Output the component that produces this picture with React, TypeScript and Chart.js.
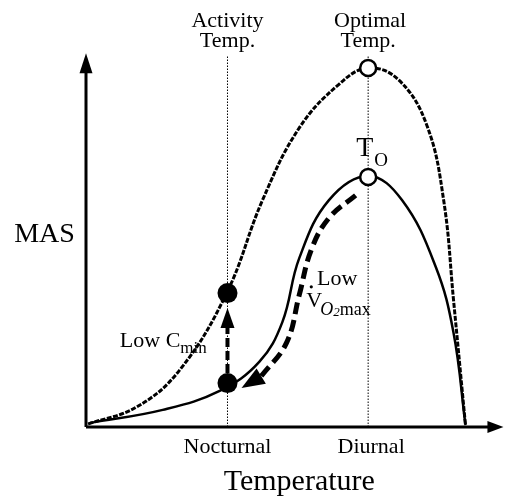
import React, { useEffect, useRef } from "react";
import { Chart, registerables } from "chart.js";

Chart.register(...registerables);

// Reference temperatures (x units) and axis extents
const activityTemp = 34.3;
const optimalTemp = 68.4;
const xAxisEnd = 101.2;
const yAxisEnd = 100.5;
const guideTop = 100;

// Upper curve (MAS with high Cmin) – dashed
const upperX = [0.5, 12.3, 22.7, 34.1, 42.8, 51.7, 61.4, 68.4, 75.8, 82.6, 86.7, 89.1, 92.0];
const upperY = [0.8, 5.4, 15.3, 36.0, 61.0, 80.4, 92.2, 96.5, 93.3, 81.2, 61.0, 34.1, 0.5];

// Lower curve (MAS) – solid
const lowerX = [1.0, 18.6, 32.4, 42.0, 47.6, 51.7, 58.9, 68.4, 76.6, 84.8, 89.1, 92.0];
const lowerY = [1.1, 4.6, 9.7, 17.5, 28.2, 45.4, 61.0, 67.5, 61.0, 43.0, 25.3, 0.5];

// Thick dashed "Low VO2max" path (ascending x), arrow tip separately
const vo2Tip = [37.7, 10.5];
const vo2X = [42.5, 48.6, 51.7, 54.6, 58.9, 65.5];
const vo2Y = [13.7, 22.6, 35.5, 47.6, 56.2, 62.4];

// Low Cmin arrow: shaft from / to, tip
const cminShaftY = [14.5, 26.9];
const cminTipY = 32.0;

// Markers
const filledY = [36.0, 11.8];
const openY = [96.5, 67.2];

const pts = (xs: number[], ys: number[]) => xs.map((x, i) => ({ x, y: ys[i] }));

const FONT = '"Liberation Serif", "Times New Roman", serif';

const annotate = {
  id: "annotate",
  afterDatasetsDraw(chart: any) {
    const { ctx, chartArea } = chart;
    const sx = chart.scales.x;
    const sy = chart.scales.y;
    const px = (v: number) => sx.getPixelForValue(v);
    const py = (v: number) => sy.getPixelForValue(v);
    ctx.save();
    ctx.fillStyle = "#000";

    const arrowHead = (x0: number, y0: number, x1: number, y1: number, len: number, half: number) => {
      const a = Math.atan2(y1 - y0, x1 - x0);
      const bx = x1 - len * Math.cos(a);
      const by = y1 - len * Math.sin(a);
      ctx.beginPath();
      ctx.moveTo(x1, y1);
      ctx.lineTo(bx + half * Math.sin(a), by - half * Math.cos(a));
      ctx.lineTo(bx - half * Math.sin(a), by + half * Math.cos(a));
      ctx.closePath();
      ctx.fill();
    };

    // axis arrowheads
    arrowHead(px(0), py(0), px(0), py(yAxisEnd), 20, 6.5);
    arrowHead(px(0), py(0), px(xAxisEnd), py(0), 16, 6);
    // Low Cmin arrowhead
    arrowHead(px(activityTemp), py(cminShaftY[0]), px(activityTemp), py(cminTipY), 20, 7);
    // VO2max arrowhead
    arrowHead(px(vo2X[0]), py(vo2Y[0]), px(vo2Tip[0]), py(vo2Tip[1]), 23, 9);

    const text = (s: string, x: number, y: number, size: number, align: CanvasTextAlign = "center", italic = false) => {
      ctx.font = `${italic ? "italic " : ""}${size}px ${FONT}`;
      ctx.textAlign = align;
      ctx.textBaseline = "alphabetic";
      ctx.fillText(s, x, y);
      return ctx.measureText(s).width;
    };

    const top = chartArea.top;
    const bottom = chartArea.bottom;

    text("Activity", px(activityTemp), top - 28, 22);
    text("Temp.", px(activityTemp), top - 8, 22);
    text("Optimal", px(optimalTemp) + 2, top - 28, 22);
    text("Temp.", px(optimalTemp), top - 8, 22);

    text("Nocturnal", px(activityTemp), bottom + 26, 22);
    text("Diurnal", px(optimalTemp) + 3, bottom + 26, 22);
    text("Temperature", px(51.7), bottom + 63, 30);

    text("MAS", px(-2.7), py(49.7), 28, "right");

    // T_O
    const tx = px(optimalTemp) - 12;
    const ty = py(openY[1]) - 21;
    const tw = text("T", tx, ty, 28, "left");
    text("O", tx + tw + 1, ty + 10, 19, "left");

    // Low C_min
    const lx = px(8.2);
    const ly = py(21.5);
    const lw = text("Low C", lx, ly, 22, "left");
    text("min", lx + lw, ly + 6, 17, "left");

    // Low VO2max
    text("Low", px(56.0), py(38.2), 22, "left");
    const vx = px(53.4);
    const vy = py(32.3);
    const vw = text("V", vx, vy, 22, "left");
    ctx.beginPath();
    ctx.arc(vx + 5, vy - 20, 1.6, 0, Math.PI * 2);
    ctx.fill();
    let ox = vx + vw - 2;
    ox += text("O", ox, vy + 8, 18, "left", true);
    ox += text("2", ox, vy + 9, 13, "left", true);
    text("max", ox, vy + 8, 18, "left");

    ctx.restore();
  },
};

export default function App() {
  const ref = useRef<HTMLCanvasElement>(null);

  useEffect(() => {
    if (!ref.current) return;
    const line = (data: any[], extra: any) => ({
      data,
      borderColor: "#000",
      backgroundColor: "#000",
      pointRadius: 0,
      clip: false,
      fill: false,
      ...extra,
    });
    const chart = new Chart(ref.current, {
      type: "line",
      data: {
        datasets: [
          line(pts([activityTemp, activityTemp], filledY), {
            showLine: false,
            pointRadius: 10,
            pointBackgroundColor: "#000",
            pointBorderWidth: 0,
            order: 0,
          }),
          line(pts([optimalTemp, optimalTemp], openY), {
            showLine: false,
            pointRadius: 8,
            pointBackgroundColor: "#fff",
            pointBorderColor: "#000",
            pointBorderWidth: 2.5,
            order: 1,
          }),
          line(pts(upperX, upperY), { borderWidth: 3, borderDash: [5, 1.5], tension: 0.4, order: 3 }),
          line(pts(lowerX, lowerY), { borderWidth: 2.5, tension: 0.4, order: 3 }),
          line(pts(vo2X, vo2Y), { borderWidth: 5, borderDash: [12, 6], tension: 0.4, order: 3 }),
          line(pts([activityTemp, activityTemp], cminShaftY), { borderWidth: 4, borderDash: [9, 4], order: 3 }),
          line(pts([activityTemp, activityTemp], [0, guideTop]), { borderWidth: 1, borderDash: [1.5, 1.5], order: 5 }),
          line(pts([optimalTemp, optimalTemp], [0, guideTop]), { borderWidth: 1, borderDash: [1.5, 1.5], order: 5 }),
          line(pts([0, xAxisEnd - 14 / 4.14], [0, 0]), { borderWidth: 3, order: 4 }),
          line(pts([0, 0], [0, yAxisEnd - 18 / 3.72]), { borderWidth: 3, order: 4 }),
        ],
      },
      options: {
        animation: false,
        responsive: false,
        devicePixelRatio: 1,
        layout: { padding: { left: 86, right: 9, top: 55, bottom: 73 } },
        elements: { line: { capBezierPoints: false } },
        plugins: { legend: { display: false }, tooltip: { enabled: false } },
        scales: {
          x: { type: "linear", min: 0, max: 100, display: false },
          y: { type: "linear", min: 0, max: 100, display: false },
        },
      },
      plugins: [annotate],
    });
    return () => chart.destroy();
  }, []);

  return (
    <div style={{ position: "absolute", left: 0, top: 0, width: 509, height: 500, background: "#fff" }}>
      <canvas ref={ref} width={509} height={500} />
    </div>
  );
}
